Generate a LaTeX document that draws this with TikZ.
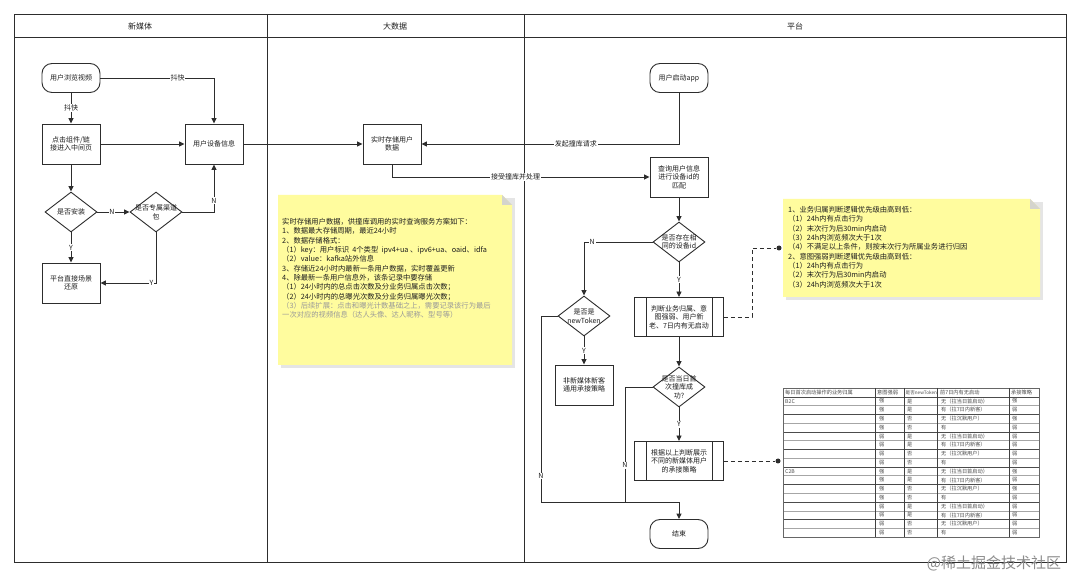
\documentclass[tikz,border=0pt]{standalone}
\usepackage{fontspec}
\setmainfont{Noto Sans CJK SC}
\usetikzlibrary{shapes.geometric,arrows.meta,calc}
\definecolor{ln}{RGB}{45,45,45}
\definecolor{notey}{RGB}{255,252,158}
\definecolor{foldc}{RGB}{212,212,205}
\definecolor{txt}{RGB}{30,30,30}
\begin{document}
\begin{tikzpicture}[x=1pt,y=-1pt,
 fs/.style={font=\fontsize{7}{8.6}\selectfont},
 box/.style={draw=ln,fill=white,line width=0.9pt,minimum width=58pt,minimum height=40pt,inner sep=1pt,align=center,fs,text=txt},
 term/.style={box,rounded corners=10pt,minimum height=29pt},
 proc/.style={box,minimum width=89pt,minimum height=39pt},
 dia/.style={draw=ln,fill=white,line width=0.9pt,diamond,minimum width=52pt,minimum height=40pt,inner sep=0pt},
 dlab/.style={fs,align=center,text=txt,inner sep=0pt},
 conn/.style={draw=ln,line width=0.9pt},
 arr/.style={conn,-{Triangle[length=5.5pt,width=5pt]}},
 lbl/.style={fill=white,inner sep=0.8pt,fs,text=txt},
 dsh/.style={draw=ln,line width=0.9pt,dash pattern=on 4pt off 3pt},
 dotn/.style={circle,fill=ln,inner sep=0pt,minimum size=5pt},
 notetxt/.style={anchor=north west,align=left,inner sep=0pt,font=\fontsize{7.3}{9.35}\selectfont,text=txt},
 hdr/.style={font=\fontsize{8}{9}\selectfont,text=txt},
 tcell/.style={anchor=west,inner sep=0pt,font=\fontsize{5.2}{6}\selectfont,text=black!70},
]
\useasboundingbox (0,0) rectangle (1080,577);
\fill[white] (0,0) rectangle (1080,577);
% swimlanes
\draw[conn] (14,14) rectangle (1066,562);
\draw[conn] (14,37) -- (1066,37);
\draw[conn] (267,14) -- (267,562);
\draw[conn] (524,14) -- (524,562);
\node[hdr] (h1) at (140,26) {新媒体};
\node[hdr] (h2) at (395,26) {大数据};
\node[hdr] (h3) at (795,26) {平台};

% left lane
\node[term] (a1) at (71,78) {用户浏览视频};
\node[box] (a2) at (71,144) {点击组件/链\\接进入中间页};
\node[box] (a3) at (214,144) {用户设备信息};
\node[dia] (a4) at (71,212) {};
\node[dlab] (a4t) at (a4) {是否安装};
\node[dia] (a5) at (156,212) {};
\node[dlab] (a5t) at (a5) {是否专属渠道\\包};
\node[box] (a6) at (71,283) {平台直接场景\\还原};

\draw[arr] (a1.east) -| (a3.north) node[lbl,pos=0.34] {抖快};
\draw[arr] (a1.south) -- (a2.north) node[lbl,pos=0.5] {抖快};
\draw[arr] (a2.east) -- (a3.west);
\draw[arr] (a2.south) -- (a4.north);
\draw[arr] (a4.east) -- (a5.west) node[lbl,pos=0.45] {N};
\draw[arr] (a5.east) -| (a3.south) node[lbl,pos=0.62] {N};
\draw[arr] (a4.south) -- (a6.north) node[lbl,pos=0.5] {Y};
\draw[arr] (a5.south) |- (a6.east) node[lbl,pos=0.54] {Y};

% middle lane
\node[box] (b1) at (392,144) {实时存储用户\\数据};
\draw[arr] (a3.east) -- (b1.west);

% middle note
\fill[black!10] (281,198) -- (515,198) -- (515,368) -- (281,368) -- cycle;
\fill[notey] (278,195) -- (502,195) -- (512,205) -- (512,365) -- (278,365) -- cycle;
\fill[foldc] (502,195) -- (512,205) -- (502,205) -- cycle;
\node[notetxt] (n1) at (282,218) {实时存储用户数据，供撞库调用的实时查询服务方案如下：\\
1、数据最大存储周期，最近24小时\\
2、数据存储格式：\\
（1）key：用户标识\ \ 4个类型\ \ ipv4+ua 、ipv6+ua、oaid、idfa\\
（2）value：kafka站外信息\\
3、存储近24小时内最新一条用户数据，实时覆盖更新\\
4、除最新一条用户信息外，该条记录中要存储\\
（1）24小时内的总点击次数及分业务归属点击次数；\\
（2）24小时内的总曝光次数及分业务归属曝光次数；\\
\textcolor{black!40}{（3）后续扩展：点击和曝光计数基础之上，需要记录该行为最后}\\
\textcolor{black!40}{一次对应的视频信息（达人头像、达人昵称、型号等）}};

% right lane
\node[term] (c1) at (679,78) {用户启动app};
\node[box] (c2) at (679,177) {查询用户信息\\进行设备id的\\匹配};
\node[dia] (c3) at (679,242) {};
\node[dlab] (c3t) at (c3) {是否存在相\\同的设备id};
\node[proc] (c4) at (679,317) {判断业务归属、意\\图强弱、用户新\\老、7日内有无启动};
\draw[conn] ([xshift=12pt]c4.north west) -- ([xshift=12pt]c4.south west);
\draw[conn] ([xshift=-12pt]c4.north east) -- ([xshift=-12pt]c4.south east);
\node[dia] (c5) at (584,316) {};
\node[dlab] (c5t) at (c5) {是否是\\newToken};
\node[box] (c6) at (584,385) {非新媒体新客\\通用承接策略};
\node[dia] (c7) at (679,387) {};
\node[dlab] (c7t) at (c7) {是否当日首\\次撞库成\\功?};
\node[proc] (c8) at (679,461) {根据以上判断展示\\不同的新媒体用户\\的承接策略};
\draw[conn] ([xshift=12pt]c8.north west) -- ([xshift=12pt]c8.south west);
\draw[conn] ([xshift=-12pt]c8.north east) -- ([xshift=-12pt]c8.south east);
\node[term] (c9) at (679,534) {结束};
\coordinate (j1) at (541,502);
\coordinate (j2) at (625,502);

\draw[arr] (c1.south) |- (b1.east) node[lbl,pos=0.70] {发起撞库请求};
\draw[arr] (b1.south) |- (c2.west) node[lbl,pos=0.74] {接受撞库并处理};
\draw[arr] (c2.south) -- (c3.north);
\draw[arr] (c3.west) -| (c5.north) node[lbl,pos=0.44] {N};
\draw[arr] (c3.south) -- (c4.north) node[lbl,pos=0.5] {Y};
\draw[arr] (c4.south) -- (c7.north);
\draw[arr] (c5.south) -- (c6.north) node[lbl,pos=0.5] {Y};
\draw[conn] (c5.west) -| (j1) node[lbl,pos=0.93] {N};
\draw[arr] (j1) -| (c9.north);
\draw[conn] (c7.west) -| (j2) node[lbl,pos=0.84] {N};
\draw[arr] (c7.south) -- (c8.north) node[lbl,pos=0.5] {Y};

% right note
\fill[black!10] (786,202) -- (1043,202) -- (1043,300) -- (786,300) -- cycle;
\fill[notey] (783,199) -- (1030,199) -- (1040,209) -- (1040,297) -- (783,297) -- cycle;
\fill[foldc] (1030,199) -- (1040,209) -- (1030,209) -- cycle;
\node[notetxt] (n2) at (788,206) {1、业务归属判断逻辑优先级由高到低：\\
（1）24h内有点击行为\\
（2）末次行为后30min内启动\\
（3）24h内浏览频次大于1次\\
（4）不满足以上条件，则按末次行为所属业务进行归因\\
2、意图强弱判断逻辑优先级由高到低：\\
（1）24h内有点击行为\\
（2）末次行为后30min内启动\\
（3）24h内浏览频次大于1次};
\coordinate (d1) at (752,248);
\node[dotn] (p1) at (779,248) {};
\draw[dsh] (c4.east) -| (d1) -- (p1);
\node[dotn] (p2) at (778,461) {};
\draw[dsh] (c8.east) -- (p2);

% table
\fill[white] (783,388) rectangle (1039,537);
\foreach \k in {0,...,17} {
  \draw[black!35,line width=0.4pt] (783,{388+8.765*\k}) -- (1039,{388+8.765*\k});
}
\foreach \k in {1,3,5,7,9,11,13,15} {
  \draw[black!70,line width=0.5pt] (783,{388+8.765*\k}) -- (1039,{388+8.765*\k});
}
\draw[black!60,line width=0.5pt] (783,388) rectangle (1039,537);
\foreach \cx in {875,904,937,1009} {
  \draw[black!75,line width=0.5pt] (\cx,388) -- (\cx,537);
}
\node[tcell] (th1) at (785,392.4) {每日首次启动操作的业务归属};
\node[tcell] (th2) at (877,392.4) {意图强弱};
\node[tcell,font=\fontsize{4.6}{5}\selectfont] (th3) at (905.5,392.4) {是否newToken};
\node[tcell] (th4) at (940,392.4) {前7日内有无启动};
\node[tcell] (th5) at (1011,392.4) {承接策略};
\node[tcell] (tb2c) at (785,401.1) {B2C};
\node[tcell] (tc2b) at (785,471.3) {C2B};
\foreach \i/\a/\b/\c/\d in {1/强/是/无（拉当日首启动）/强,2/强/是/有（拉7日内新客）/弱,3/强/否/无（拉沉默用户）/强,4/强/否/有/弱,5/弱/是/无（拉当日首启动）/弱,6/弱/是/有（拉7日内新客）/弱,7/弱/否/无（拉沉默用户）/弱,8/弱/否/有/弱,9/强/是/无（拉当日首启动）/强,10/强/是/有（拉7日内新客）/弱,11/强/否/无（拉沉默用户）/强,12/强/否/有/弱,13/弱/是/无（拉当日首启动）/弱,14/弱/是/有（拉7日内新客）/弱,15/弱/否/无（拉沉默用户）/弱,16/弱/否/有/弱} {
  \node[tcell] (ta\i) at (879,{388+8.765*(\i+0.5)}) {\a};
  \node[tcell] (tb\i) at (907,{388+8.765*(\i+0.5)}) {\b};
  \node[tcell] (tc\i) at (941,{388+8.765*(\i+0.5)}) {\c};
  \node[tcell] (td\i) at (1012,{388+8.765*(\i+0.5)}) {\d};
}
% watermark
\node[font=\fontsize{15}{16}\selectfont,text=black!45] (wm) at (994,563) {@稀土掘金技术社区};
\end{tikzpicture}
\end{document}
